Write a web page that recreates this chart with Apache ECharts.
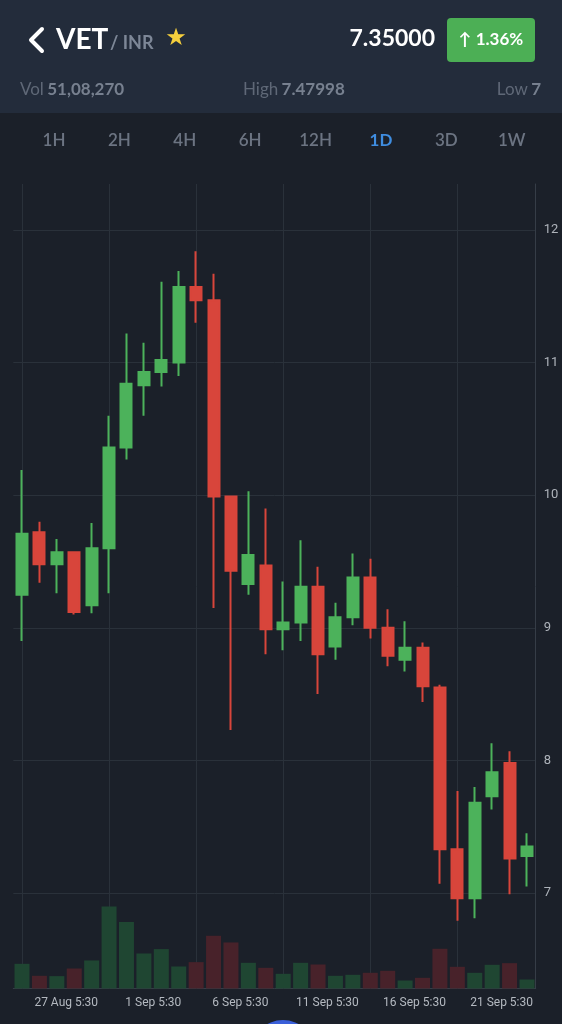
<!DOCTYPE html>
<html>
<head>
<meta charset="utf-8">
<script src="https://cdn.jsdelivr.net/npm/echarts@6/dist/echarts.min.js"></script>
<style>
  html, body { margin: 0; padding: 0; background: #1b2029; }
  #chart { width: 562px; height: 1024px; }
</style>
</head>
<body>
<div id="chart"></div>
<script>
// daily candles, 24 Aug - 22 Sep
const dates = [
  '24 Aug 5:30', '25 Aug 5:30', '26 Aug 5:30', '27 Aug 5:30', '28 Aug 5:30',
  '29 Aug 5:30', '30 Aug 5:30', '31 Aug 5:30', '1 Sep 5:30', '2 Sep 5:30',
  '3 Sep 5:30', '4 Sep 5:30', '5 Sep 5:30', '6 Sep 5:30', '7 Sep 5:30',
  '8 Sep 5:30', '9 Sep 5:30', '10 Sep 5:30', '11 Sep 5:30', '12 Sep 5:30',
  '13 Sep 5:30', '14 Sep 5:30', '15 Sep 5:30', '16 Sep 5:30', '17 Sep 5:30',
  '18 Sep 5:30', '19 Sep 5:30', '20 Sep 5:30', '21 Sep 5:30', '22 Sep 5:30'
]

// [open, close, low, high]
const ohlc = [
  [9.25, 9.71, 8.90, 10.19],
  [9.72, 9.48, 9.34, 9.80],
  [9.48, 9.57, 9.26, 9.67],
  [9.57, 9.12, 9.10, 9.57],
  [9.17, 9.60, 9.11, 9.79],
  [9.60, 10.36, 9.26, 10.60],
  [10.36, 10.84, 10.27, 11.22],
  [10.83, 10.93, 10.60, 11.15],
  [10.93, 11.02, 10.82, 11.61],
  [11.00, 11.57, 10.90, 11.69],
  [11.57, 11.47, 11.30, 11.84],
  [11.47, 9.99, 9.15, 11.67],
  [9.99, 9.43, 8.23, 9.99],
  [9.33, 9.55, 9.25, 10.03],
  [9.47, 8.99, 8.80, 9.90],
  [8.99, 9.04, 8.83, 9.35],
  [9.04, 9.31, 8.90, 9.66],
  [9.31, 8.80, 8.50, 9.46],
  [8.86, 9.08, 8.76, 9.19],
  [9.08, 9.38, 9.02, 9.56],
  [9.38, 9.00, 8.92, 9.52],
  [9.00, 8.79, 8.71, 9.14],
  [8.76, 8.85, 8.67, 9.05],
  [8.85, 8.56, 8.44, 8.89],
  [8.55, 7.33, 7.07, 8.57],
  [7.33, 6.96, 6.79, 7.77],
  [6.96, 7.68, 6.81, 7.80],
  [7.73, 7.91, 7.63, 8.13],
  [7.98, 7.26, 6.99, 8.07],
  [7.28, 7.35, 7.05, 7.45]
]

// volume, thousands
const volumes = [
  740, 380, 370, 600, 840, 2460, 1990, 1050, 1180, 660,
  790, 1580, 1380, 770, 620, 440, 770, 720, 380, 410,
  470, 530, 240, 320, 1190, 650, 470, 710, 760, 270
]

const gridLineDates = ['24 Aug 5:30', '29 Aug 5:30', '3 Sep 5:30', '8 Sep 5:30', '13 Sep 5:30', '18 Sep 5:30']
const tabs = ['1H', '2H', '4H', '6H', '12H', '1D', '3D', '1W']
const activeTab = '1D'

const pair = 'VET'
const quote = '/ INR'
const lastPrice = '7.35000'
const change = '↑ 1.36%'
const vol24 = '51,08,270'
const high24 = '7.47998'
const low24 = '7'

const UP = '#4cb25b'
const DOWN = '#d8453b'
const UP_VOL = '#1f4632'
const DOWN_VOL = '#48222a'
const GRID = '#2a313a'

const chart = echarts.init(document.getElementById('chart'))

const statRich = {
  a: { fill: '#5f6877', font: '17px Lato' },
  b: { fill: '#77808f', font: 'bold 17px Lato' }
}

let graphic = [
  { type: 'rect', shape: { x: 0, y: 0, width: 562, height: 113 }, style: { fill: '#232c3b' }, z: 0 },
  { type: 'polyline', shape: { points: [[42, 29], [31, 40], [42, 51]] },
    style: { stroke: '#ffffff', lineWidth: 4, fill: null, lineCap: 'round', lineJoin: 'round' } },
  { type: 'text', x: 56, y: 40, style: { text: pair, fill: '#ffffff', font: 'bold 28px Lato', verticalAlign: 'middle' } },
  { type: 'text', x: 110, y: 43, style: { text: quote, fill: '#7d8797', font: 'bold 18px Lato', verticalAlign: 'middle' } },
  { type: 'text', x: 176, y: 39, style: { text: '★', fill: '#f5cf3d', font: '24px "DejaVu Sans"', align: 'center', verticalAlign: 'middle' } },
  { type: 'text', x: 435, y: 39, style: { text: lastPrice, fill: '#ffffff', font: 'bold 23px Lato', align: 'right', verticalAlign: 'middle' } },
  { type: 'rect', shape: { x: 447, y: 18, width: 88, height: 44, r: 4 }, style: { fill: '#4caf55' } },
  { type: 'text', x: 491, y: 40, style: { text: change, fill: '#ffffff', font: 'bold 17px Lato', align: 'center', verticalAlign: 'middle' } },
  { type: 'text', x: 20, y: 90, style: { text: '{a|Vol} {b|' + vol24 + '}', verticalAlign: 'middle', rich: statRich } },
  { type: 'text', x: 243, y: 90, style: { text: '{a|High} {b|' + high24 + '}', verticalAlign: 'middle', rich: statRich } },
  { type: 'text', x: 541, y: 90, style: { text: '{a|Low} {b|' + low24 + '}', align: 'right', verticalAlign: 'middle', rich: statRich } },
  { type: 'circle', shape: { cx: 283, cy: 1052, r: 32 }, style: { fill: '#3a5fd9' } }
]

tabs.forEach((t, i) => {
  graphic.push({
    type: 'text', x: 54 + i * 65.4, y: 141,
    style: {
      text: t, align: 'center', verticalAlign: 'middle',
      fill: t === activeTab ? '#3f8de0' : '#6c7482',
      font: (t === activeTab ? 'bold' : '600') + ' 17px Lato'
    }
  })
})

const volData = volumes.map((v, i) => ({
  value: v,
  itemStyle: { color: ohlc[i][1] >= ohlc[i][0] ? UP_VOL : DOWN_VOL }
}))

let option = {
  backgroundColor: '#1b2029',
  animation: false,
  graphic: graphic,
  grid: { left: 13.3, right: 26.3, top: 184, bottom: 35.5, containLabel: false, outerBoundsMode: 'none' },
  xAxis: {
    type: 'category',
    data: dates,
    boundaryGap: true,
    axisLine: { lineStyle: { color: '#363d47' } },
    axisTick: { show: false },
    splitLine: { show: false },
    axisLabel: {
      interval: (idx) => idx % 5 === 3,
      color: '#b4b9c0',
      fontFamily: 'Roboto',
      fontSize: 12,
      margin: 8,
      padding: [0, 16, 0, 0]
    }
  },
  yAxis: [
    {
      type: 'value',
      position: 'right',
      min: 6.28,
      max: 12.347,
      splitNumber: 6,
      axisLine: { show: true, lineStyle: { color: '#363d47' } },
      axisTick: { show: false },
      axisLabel: {
        color: '#aeb3ba', fontFamily: 'Roboto', fontSize: 13, margin: 8,
        showMinLabel: false, showMaxLabel: false
      },
      splitLine: { lineStyle: { color: GRID }, showMinLine: false, showMaxLine: false }
    },
    {
      type: 'value',
      show: false,
      min: 0,
      max: Math.max(...volumes) * 9.8,
      splitLine: { show: false }
    }
  ],
  series: [
    {
      name: 'Volume',
      type: 'bar',
      yAxisIndex: 1,
      barWidth: 15,
      data: volData,
      z: 1,
      silent: true
    },
    {
      name: 'VET/INR',
      type: 'candlestick',
      data: ohlc,
      barWidth: 11.5,
      z: 3,
      itemStyle: {
        color: UP,
        color0: DOWN,
        borderColor: UP,
        borderColor0: DOWN,
        borderWidth: 2
      },
      markLine: {
        silent: true,
        z: 1,
        symbol: ['none', 'none'],
        label: { show: false },
        lineStyle: { color: GRID, width: 1, type: 'solid' },
        emphasis: { disabled: true },
        data: gridLineDates.map(d => ({ xAxis: d }))
      }
    }
  ]
}

chart.setOption(option)
</script>
</body>
</html>
